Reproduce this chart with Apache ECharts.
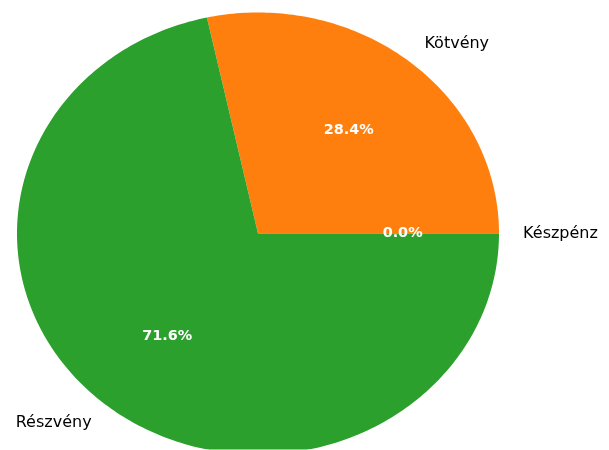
<!DOCTYPE html>
<html>
<head>
<meta charset="utf-8">
<script src="https://cdn.jsdelivr.net/npm/echarts@6/dist/echarts.min.js"></script>
<style>
html,body{margin:0;padding:0;background:#fff;}
#chart{width:609px;height:450px;}
</style>
</head>
<body>
<div id="chart"></div>
<script>
// Data
var categories = ['Készpénz', 'Kötvény', 'Részvény'];
var shares = [0.0, 28.4, 71.6];
var colors = ['#1f77b4', '#ff7f0e', '#2ca02c'];
var pctLabels = ['0.0%', '28.4%', '71.6%'];

var total = shares.reduce(function (a, b) { return a + b; }, 0);
var startAngles = [];
var endAngles = [];
var acc = 0;
for (var i = 0; i < shares.length; i++) {
  startAngles.push(acc / total * 360);
  acc += shares[i];
  endAngles.push(acc / total * 360);
}

var chart = echarts.init(document.getElementById('chart'), null, {renderer: 'canvas'});

function wedgeItem(params, api) {
  var idx = api.value(0);
  var a0 = startAngles[idx] * Math.PI / 180;
  var a1 = endAngles[idx] * Math.PI / 180;
  if (!(a1 > a0)) return {type: 'group', children: []};
  var pts = [api.coord([0, 0])];
  var n = Math.max(2, Math.ceil((a1 - a0) / (2 * Math.PI) * 400));
  for (var k = 0; k <= n; k++) {
    var t = a0 + (a1 - a0) * k / n;
    pts.push(api.coord([Math.cos(t), Math.sin(t)]));
  }
  return {
    type: 'polygon',
    shape: {points: pts},
    style: {fill: colors[idx], stroke: null}
  };
}

function labelItem(params, api) {
  var idx = api.value(0);
  var a0 = startAngles[idx] * Math.PI / 180;
  var a1 = endAngles[idx] * Math.PI / 180;
  var mid = (a0 + a1) / 2;
  var cx = Math.cos(mid), cy = Math.sin(mid);
  var pp = api.coord([0.6 * cx, 0.6 * cy]);
  var lp = api.coord([1.1 * cx, 1.1 * cy]);
  return {
    type: 'group',
    children: [{
      type: 'text',
      style: {
        x: pp[0], y: pp[1],
        text: pctLabels[idx],
        fill: '#ffffff',
        fontFamily: 'DejaVu Sans',
        fontWeight: 'bold',
        fontSize: 14.4,
        align: 'center',
        verticalAlign: 'middle'
      }
    }, {
      type: 'text',
      style: {
        x: lp[0], y: lp[1],
        text: categories[idx],
        fill: '#000000',
        fontFamily: 'DejaVu Sans',
        fontSize: 16,
        align: cx >= 0 ? 'left' : 'right',
        verticalAlign: 'middle'
      }
    }]
  };
}

var rx = 241, ry = 221;
var xPad = 1.01, yTop = 1.01, yBottom = -0.977;

chart.setOption({
  animation: false,
  backgroundColor: '#ffffff',
  grid: {
    outerBoundsMode: 'none',
    containLabel: false,
    left: 258 - rx * xPad,
    width: rx * xPad * 2,
    top: 233.5 - ry * yTop,
    height: ry * (yTop - yBottom)
  },
  xAxis: {type: 'value', min: -xPad, max: xPad, show: false},
  yAxis: {type: 'value', min: yBottom, max: yTop, show: false},
  series: [{
    type: 'custom',
    renderItem: wedgeItem,
    clip: true,
    z: 2,
    data: categories.map(function (c, i) { return [i]; }),
    encode: {x: 0, y: 0}
  }, {
    type: 'custom',
    renderItem: labelItem,
    clip: false,
    z: 5,
    data: categories.map(function (c, i) { return [i]; }),
    encode: {x: 0, y: 0}
  }]
});
</script>
</body>
</html>
